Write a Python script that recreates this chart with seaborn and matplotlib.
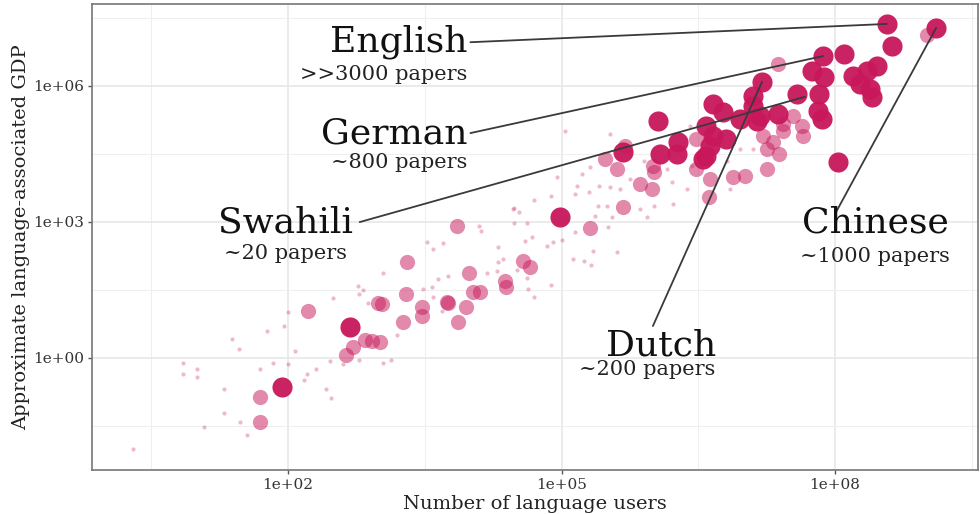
import numpy as np
import pandas as pd
import matplotlib.pyplot as plt
import seaborn as sns
from matplotlib.ticker import NullFormatter

# values, stored as log10 (users, GDP)
# languages with many papers: big, solid dots
big_log_users = [8.57, 9.11, 8.63, 7.87, 8.10, 8.46, 8.35, 8.20, 7.75, 7.88, 8.27, 8.38,
                 8.41, 7.20, 7.10, 7.58, 7.83, 7.81, 7.86, 7.37, 7.18, 6.96, 6.66, 6.77,
                 7.14, 6.59, 6.66, 6.81, 6.59, 6.63, 6.55, 6.28, 6.27, 6.08, 6.06, 5.67,
                 8.03, 4.98, 2.68, 1.93, 7.10]
big_log_gdp = [7.37, 7.28, 6.88, 6.66, 6.71, 6.44, 6.33, 6.22, 6.33, 6.20, 6.04, 5.93,
               5.76, 6.09, 5.78, 5.82, 5.82, 5.45, 5.27, 5.38, 5.34, 5.27, 5.60, 5.42,
               5.23, 5.12, 4.89, 4.83, 4.45, 4.67, 4.38, 4.76, 4.50, 4.50, 5.23, 4.54,
               4.32, 3.10, 0.67, -0.64, 5.56]

# languages with a handful of papers: medium, translucent dots
mid_log_users = [9.01, 7.38, 7.54, 7.64, 7.43, 7.21, 7.32, 7.25, 7.39, 7.43, 7.65, 7.25,
                 7.01, 6.88, 6.63, 6.62, 6.48, 6.48, 6.02, 6.00, 5.86, 5.99, 5.67, 5.48,
                 5.61, 5.70, 5.31, 4.58, 4.65, 3.85, 3.30, 3.98, 4.38, 4.39, 4.03, 4.11,
                 3.95, 3.75, 3.29, 3.47, 3.47, 3.03, 3.26, 3.86, 2.22, 2.84, 2.92, 3.01,
                 2.63, 2.71, 2.99, 3.74, 1.69, 1.69]
mid_log_gdp = [7.13, 6.49, 5.34, 5.12, 5.16, 4.89, 4.76, 4.61, 4.50, 5.00, 4.89, 4.16,
               4.01, 3.99, 3.94, 3.54, 4.16, 4.83, 4.10, 4.23, 3.83, 3.72, 3.32, 4.38,
               4.16, 4.67, 2.86, 2.13, 2.00, 2.90, 2.11, 1.88, 1.69, 1.55, 1.46, 1.44,
               1.11, 1.20, 1.40, 1.11, 0.91, 1.18, 0.78, 0.78, 1.04, 0.40, 0.36, 0.34,
               0.07, 0.23, 1.20, 1.22, -0.86, -1.41]

# languages with (almost) no papers: tiny, faint dots
small_log_users = [2.00, 1.95, 1.77, 1.38, 1.46, 2.08, 0.85, 1.00, 0.85, 1.00, 1.69, 1.84,
                   2.00, 1.30, 1.30, 1.47, 1.55, 1.08, 0.30, 2.18, 2.21, 2.31, 2.46, 2.42,
                   2.47, 2.49, 2.77, 2.82, 2.78, 2.88, 2.78, 3.04, 3.13, 3.20, 2.60, 4.70,
                   4.48, 4.53, 4.62, 4.48, 4.09, 4.12, 4.60, 4.68, 5.00, 4.91, 4.84, 5.15,
                   5.34, 5.32, 5.13, 5.25, 5.61, 5.17, 5.15, 5.30, 5.41, 5.53, 5.40, 5.37,
                   5.51, 3.59, 3.70, 3.52, 3.75, 3.64, 3.58, 3.48, 4.18, 4.30, 4.30, 4.36,
                   4.29, 4.62, 4.63, 4.70, 4.88, 4.51, 3.04, 3.59, 3.69, 5.04, 5.53, 5.22,
                   5.31, 4.95, 4.89, 5.64, 5.75, 5.91, 6.21, 6.38, 6.16, 6.43, 6.85, 6.22,
                   6.02, 5.50, 5.86, 5.55, 5.94, 6.96, 7.10, 6.82, 6.41, 4.47]
small_log_gdp = [1.02, 0.69, 0.58, 0.42, 0.20, 0.14, -0.11, -0.26, -0.35, -0.42, -0.26, -0.11,
                 -0.13, -0.70, -1.23, -1.41, -1.70, -1.52, -2.01, -0.50, -0.35, -0.26, -0.08, -0.70,
                 -0.88, 1.31, 1.58, 1.49, 1.40, 1.20, -0.06, -0.11, -0.04, 0.51, -0.15, 3.48,
                 3.30, 3.21, 2.97, 2.97, 2.90, 2.79, 2.57, 2.66, 2.59, 2.55, 2.46, 2.77,
                 2.35, 2.04, 2.17, 2.13, 2.33, 3.79, 3.61, 3.65, 3.79, 3.77, 3.35, 3.12,
                 2.88, 2.39, 2.53, 2.55, 1.80, 1.73, 1.55, 1.51, 1.88, 2.11, 2.44, 2.19,
                 1.91, 1.77, 1.51, 1.35, 1.60, 1.93, 1.88, 1.33, 1.04, 5.00, 4.94, 4.05,
                 4.21, 3.99, 3.57, 3.72, 3.94, 4.34, 3.88, 3.72, 4.16, 4.23, 3.72, 3.39,
                 3.35, 3.35, 3.28, 3.10, 3.10, 4.61, 4.61, 4.34, 5.12, 3.28]

# labelled languages
label_names = ["English", "German", "Swahili", "Chinese", "Dutch"]
label_papers = [">>3000 papers", "~800 papers", "~20 papers", "~1000 papers", "~200 papers"]
label_log_users = [8.57, 7.87, 7.67, 9.11, 7.20]
label_log_gdp = [7.37, 6.66, 5.76, 7.28, 6.09]

crimson = "#C8175B"

sns.set_style("ticks")
plt.rcParams["font.family"] = ["DejaVu Serif"]

fig = plt.figure(figsize=(9.8, 5.14), dpi=100)
ax = fig.add_axes([0.094, 0.0856, 0.904, 0.9066])

small = pd.DataFrame({"users": 10 ** np.array(small_log_users), "gdp": 10 ** np.array(small_log_gdp)})
mid = pd.DataFrame({"users": 10 ** np.array(mid_log_users), "gdp": 10 ** np.array(mid_log_gdp)})
big = pd.DataFrame({"users": 10 ** np.array(big_log_users), "gdp": 10 ** np.array(big_log_gdp)})

sns.scatterplot(data=small, x="users", y="gdp", s=9, color=crimson, alpha=0.3, linewidth=0, ax=ax, zorder=3)
sns.scatterplot(data=mid, x="users", y="gdp", s=120, color=crimson, alpha=0.5, linewidth=0, ax=ax, zorder=4)
sns.scatterplot(data=big, x="users", y="gdp", s=210, color=crimson, alpha=0.95, linewidth=0, ax=ax, zorder=5)

ax.set_xscale("log")
ax.set_yscale("log")

ax.set_xticks([1e2, 1e5, 1e8])
ax.set_xticklabels(["1e+02", "1e+05", "1e+08"])
ax.set_yticks([1e0, 1e3, 1e6])
ax.set_yticklabels(["1e+00", "1e+03", "1e+06"])
ax.set_xticks([10 ** 0.5, 10 ** 3.5, 10 ** 6.5, 10 ** 9.5], minor=True)
ax.set_yticks([10 ** -1.5, 10 ** 1.5, 10 ** 4.5, 10 ** 7.5], minor=True)
ax.xaxis.set_minor_formatter(NullFormatter())
ax.yaxis.set_minor_formatter(NullFormatter())
ax.set_xlim(10 ** -0.15, 10 ** 9.57)
ax.set_ylim(10 ** -2.48, 10 ** 7.81)
ax.tick_params(which="minor", length=0)
ax.tick_params(which="major", length=3, width=1, color="#555555", labelsize=11, labelcolor="#333333", pad=3)

ax.grid(True, which="major", color="#E6E6E6", linewidth=1.1, zorder=0)
ax.grid(True, which="minor", color="#EFEFEF", linewidth=0.8, zorder=0)
ax.set_axisbelow(True)
for sp in ax.spines.values():
    sp.set_color("#777777")
    sp.set_linewidth(1.2)

ax.set_xlabel("Number of language users", fontsize=14, color="#222222", labelpad=2)
ax.set_ylabel("Approximate language-associated GDP", fontsize=14, color="#222222", labelpad=2)

# label placement (axes fraction): name, sub text, line start, alignment
name_pos = [(0.424, 0.918), (0.424, 0.723), (0.218, 0.532), (0.884, 0.532), (0.704, 0.268)]
sub_pos = [(0.424, 0.848), (0.424, 0.659), (0.218, 0.464), (0.884, 0.459), (0.704, 0.215)]
line_start = [(0.427, 0.918), (0.427, 0.723), (0.302, 0.532), (0.839, 0.551), (0.633, 0.309)]
align = ["right", "right", "center", "center", "right"]

for i, name in enumerate(label_names):
    target = (10 ** label_log_users[i], 10 ** label_log_gdp[i])
    ax.annotate("", xy=target, xycoords="data", xytext=line_start[i], textcoords="axes fraction",
                arrowprops=dict(arrowstyle="-", color="#3a3a3a", lw=1.3, shrinkA=0, shrinkB=0), zorder=6)
    ax.text(name_pos[i][0], name_pos[i][1], name, transform=ax.transAxes, fontsize=26,
            ha=align[i], va="center", color="#111111", zorder=7)
    ax.text(sub_pos[i][0], sub_pos[i][1], label_papers[i], transform=ax.transAxes, fontsize=15,
            ha=align[i], va="center", color="#222222", zorder=7)

fig.savefig("out.png", dpi=100)
